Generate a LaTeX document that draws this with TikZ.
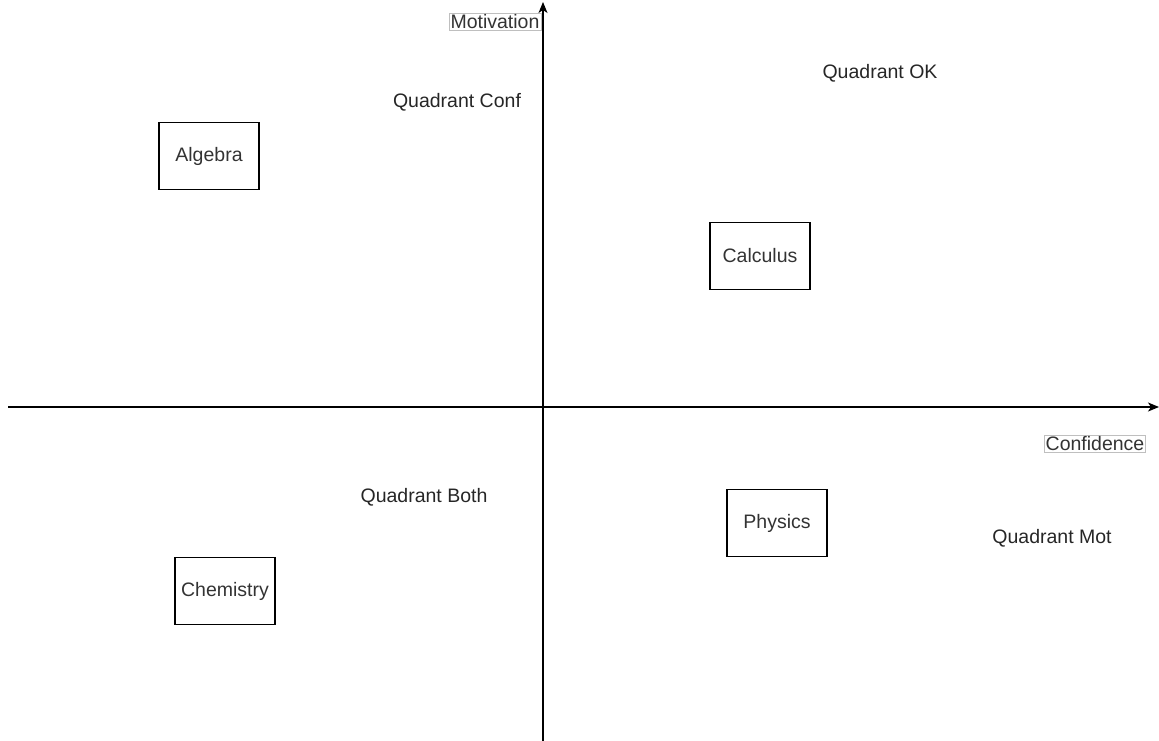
\documentclass[tikz,border=0pt]{standalone}
\usepackage{fontspec}
\setmainfont{Liberation Sans}
\usetikzlibrary{arrows.meta}
\begin{document}
\begin{tikzpicture}[x=1pt,y=-1pt,
  lbl/.style={font=\fontsize{19.5}{22}\selectfont},
  subject/.style={lbl,draw=black,line width=1.2pt,minimum width=100pt,minimum height=67pt,inner sep=0pt,text=black!80},
  axislabel/.style={lbl,draw=black!25,line width=0.7pt,inner sep=1.5pt,text=black!80},
  quad/.style={lbl,inner sep=0pt,text=black!85},
  axis/.style={line width=1.3pt,-{Stealth[length=11pt,width=9pt,inset=3pt]}}]
\useasboundingbox (0,0) rectangle (1159,740);
% axes
\coordinate (xl) at (8,407);
\coordinate (xr) at (1159,407);
\coordinate (yb) at (543,741);
\coordinate (yt) at (543,2);
\draw[axis] (xl) -- (xr);
\draw[axis] (yb) -- (yt);
% axis labels
\node[axislabel] (mot) at (495,22) {Motivation};
\node[axislabel] (conf) at (1095,444) {Confidence};
% quadrant captions
\node[quad] (qok) at (880,73) {Quadrant OK};
\node[quad] (qconf) at (457,102) {Quadrant Conf};
\node[quad] (qboth) at (424,497) {Quadrant Both};
\node[quad] (qmot) at (1052,538) {Quadrant Mot};
% subjects
\node[subject] (alg) at (209,156) {Algebra};
\node[subject] (calc) at (760,256) {Calculus};
\node[subject] (phys) at (777,523) {Physics};
\node[subject] (chem) at (225,591) {Chemistry};
\end{tikzpicture}
\end{document}
